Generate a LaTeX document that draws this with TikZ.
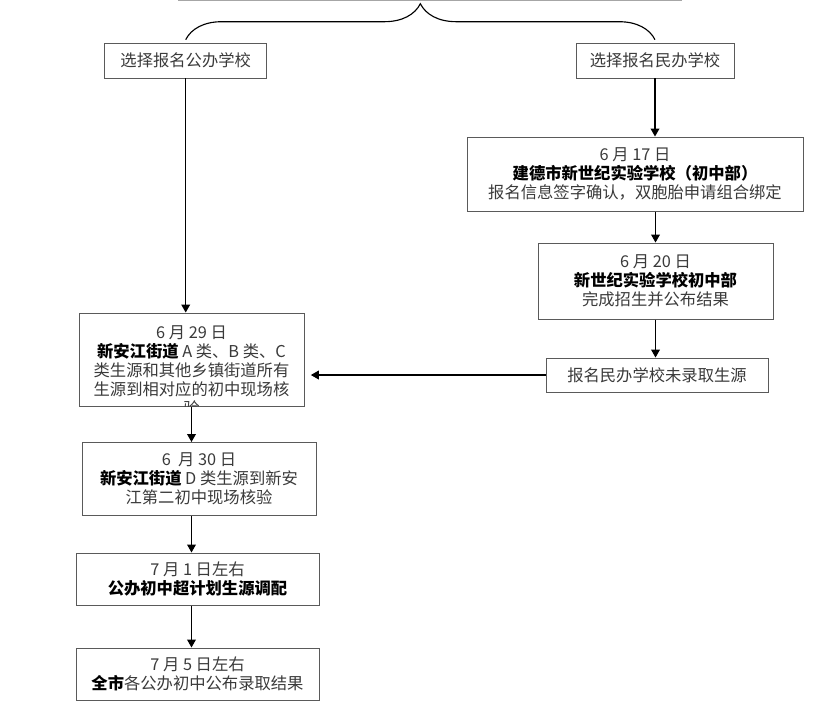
\documentclass[tikz,border=0pt]{standalone}
\usepackage{fontspec}
\setmainfont{Noto Sans CJK SC}
\usetikzlibrary{arrows.meta,decorations.pathreplacing}
\definecolor{txtgray}{HTML}{3A3A3A}
\definecolor{boxgray}{HTML}{5A5A5A}
\tikzset{
  box/.style={draw=boxgray, line width=0.7pt, align=center, text=txtgray,
    font=\fontsize{11.6pt}{13.5pt}\selectfont, inner sep=0pt},
  flow/.style={-{Triangle[length=2mm,width=2.2mm]}, line width=0.8pt},
}
\newcommand{\hl}[1]{{\bfseries\color{black}#1}}
\begin{document}
\begin{tikzpicture}[x=0.25mm,y=-0.25mm]
\useasboundingbox (0,0) rectangle (824,719);
\draw[gray!70, line width=1pt] (178,0.5) -- (682,0.5);

\node[box, minimum width=40.5mm, minimum height=8.75mm] (pub) at (185.7,60.5) {选择报名公办学校};
\node[box, minimum width=39.5mm, minimum height=8.75mm] (pri) at (655,60.5) {选择报名民办学校};
\draw[decorate, decoration={brace, amplitude=25.6pt}, line width=0.8pt] ([yshift=2pt]pub.north) -- ([yshift=2pt]pri.north);

\node[box, minimum width=84mm, minimum height=18.5mm] (d17) at (635,174) {6 月 17 日\\\hl{建德市新世纪实验学校（初中部）}\\报名信息签字确认，双胞胎申请组合绑定};
\node[box, minimum width=58.75mm, minimum height=19mm] (d20) at (655.5,281) {6 月 20 日\\\hl{新世纪实验学校初中部}\\完成招生并公布结果};
\node[box, minimum width=55.5mm, minimum height=8.5mm] (nr) at (657,375) {报名民办学校未录取生源};

\node[box, minimum width=56.25mm, minimum height=23.25mm] (d29) at (191.5,359.5) {};
\begin{scope}
\clip (d29.south west) rectangle (d29.north east);
\node[box, draw=none] (d29t) at (191.5,371) {6 月 29 日\\\hl{新安江街道} A 类、B 类、C\\类生源和其他乡镇街道所有\\生源到相对应的初中现场核\\验};
\end{scope}
\node[box, minimum width=58.5mm, minimum height=18.25mm] (d30) at (199,479) {6\ \ 月 30 日\\\hl{新安江街道} D 类生源到新安\\江第二初中现场核验};
\node[box, minimum width=60.75mm, minimum height=13mm] (d71) at (197.5,579) {7 月 1 日左右\\\hl{公办初中超计划生源调配}};
\node[box, minimum width=60.75mm, minimum height=13mm] (d75) at (197.5,674) {7 月 5 日左右\\\hl{全市}各公办初中公布录取结果};

\draw[flow] (pub.south) -- (pub.south |- d29.north);
\draw[flow] (pri.south) -- (pri.south |- d17.north);
\draw[flow] (d20.north |- d17.south) -- (d20.north);
\draw[flow] (d20.south) -- (d20.south |- nr.north);
\draw[flow, shorten >=4.5pt] (nr.west) -- (nr.west -| d29.east);
\draw[flow] (d29.south) -- (d29.south |- d30.north);
\draw[flow] (d29.south |- d30.south) -- (d29.south |- d71.north);
\draw[flow] (d29.south |- d71.south) -- (d29.south |- d75.north);
\end{tikzpicture}
\end{document}
